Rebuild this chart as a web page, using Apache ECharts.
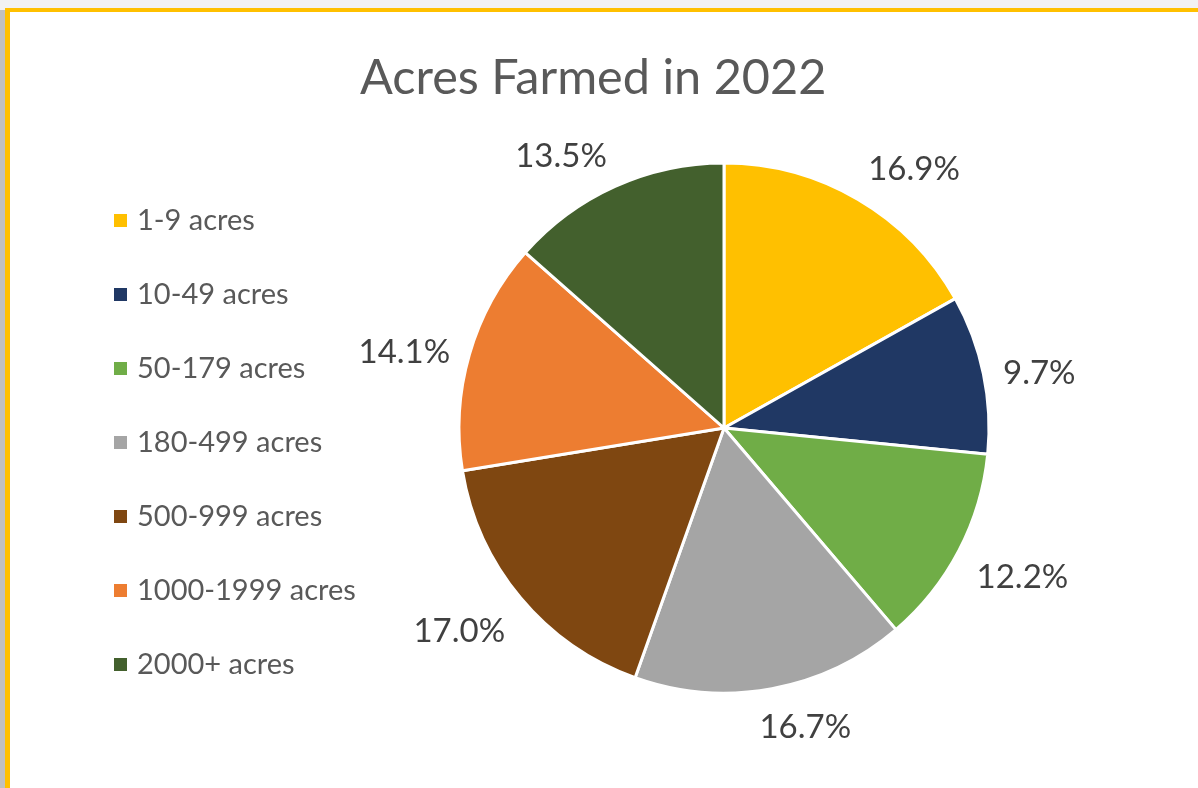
<!DOCTYPE html>
<html>
<head>
<meta charset="utf-8">
<script src="https://cdn.jsdelivr.net/npm/echarts@6/dist/echarts.min.js"></script>
<style>
  html, body { margin: 0; padding: 0; width: 1198px; height: 788px; overflow: hidden; background: #f2f2f3; }
  #shadow { position: absolute; left: 0; top: 10px; width: 6px; height: 778px; background: #c0c0c0; }
  #frame { position: absolute; left: 5px; top: 8px; width: 1300px; height: 900px; background: #ffffff;
           border-top: 4px solid #FFC000; border-left: 5px solid #FFC000; }
  #chart { position: absolute; left: 0; top: 0; width: 1198px; height: 788px; }
</style>
</head>
<body>
<div id="shadow"></div>
<div id="frame"></div>
<div id="chart"></div>
<script>
const titleText = 'Acres Farmed in 2022';
const categories = ['1-9 acres', '10-49 acres', '50-179 acres', '180-499 acres', '500-999 acres', '1000-1999 acres', '2000+ acres'];
const values = [16.9, 9.7, 12.2, 16.7, 17.0, 14.1, 13.5];
const colors = ['#FFC000', '#203864', '#70AD47', '#A5A5A5', '#7F4711', '#ED7D31', '#43602D'];

const chart = echarts.init(document.getElementById('chart'), null, { renderer: 'canvas' });
const font = 'Lato, "Open Sans", sans-serif';
const pieData = categories.map((c, i) => ({ name: c, value: values[i], itemStyle: { color: colors[i] } }));

const CX = 724, CY = 428, R = 265;
const total = values.reduce((a, b) => a + b, 0);
// mid angle of each slice (radians, clockwise from 12 o'clock)
const midAngles = [];
{
  let acc = 0;
  values.forEach(v => { midAngles.push((acc + v / 2) / total * Math.PI * 2); acc += v; });
}
const clamp = (v, a, b) => Math.max(a, Math.min(b, v));

// Excel-like "outside end" label placement
function excelLabel(params) {
  const th = midAngles[params.dataIndex];
  const s = Math.sin(th), c = Math.cos(th);
  const px = CX + R * s, py = CY - R * c;
  const w = params.labelRect.width;
  const sx = Math.sign(s) * clamp((Math.abs(s) - 0.1) * 8, 0, 1);
  const sy = Math.sign(-c) * clamp((Math.abs(c) - 0.3) * 5, 0, 1);
  const gy = c < 0 ? 16 : 10;
  const x = px + s * 20 + sx * w / 2;
  const y = py - c * gy + sy * 22 + 1;
  return { x: x, y: y, align: 'center', verticalAlign: 'middle' };
}

chart.setOption({
  backgroundColor: 'transparent',
  animation: false,
  title: {
    text: titleText,
    left: 355,
    top: 49,
    textStyle: { fontFamily: font, fontSize: 48.6, fontWeight: 'normal', color: '#595959' }
  },
  legend: {
    orient: 'vertical',
    left: 107,
    top: 200,
    icon: 'rect',
    itemWidth: 15,
    itemHeight: 15,
    itemGap: 43,
    data: categories,
    selectedMode: false,
    textStyle: { fontFamily: font, fontSize: 29, color: '#595959', lineHeight: 31, padding: [0, 0, 0, 4] }
  },
  series: [
    {
      type: 'pie',
      center: [CX, CY],
      radius: [0, R],
      startAngle: 90,
      clockwise: true,
      silent: true,
      avoidLabelOverlap: false,
      label: {
        show: true,
        position: 'outside',
        formatter: p => p.value.toFixed(1) + '%',
        fontFamily: font,
        fontSize: 33,
        color: '#404040'
      },
      labelLine: { show: false },
      labelLayout: excelLabel,
      itemStyle: { borderColor: '#ffffff', borderWidth: 3 },
      data: pieData
    }
  ]
});
</script>
</body>
</html>
